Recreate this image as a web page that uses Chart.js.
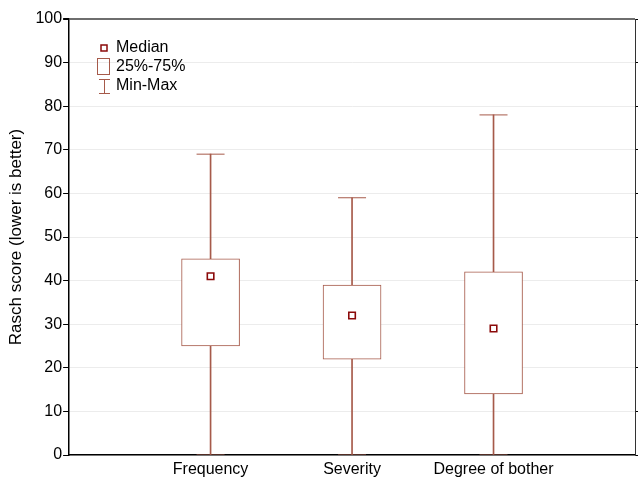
<!DOCTYPE html>
<html>
<head>
<meta charset="utf-8">
<script src="https://cdn.jsdelivr.net/npm/chart.js@4"></script>
<style>
  body { margin: 0; background: #fff; }
  .C_chart { width: 638px; height: 478px; }
</style>
</head>
<body>
<div class="C_chart"><canvas id="boxChart" width="638" height="478"></canvas></div>
<script>
// values
const categories = ['Frequency', 'Severity', 'Degree of bother']
const minVals = [0, 0, 0]
const q1Vals = [25, 22, 14]
const medianVals = [41, 32, 29]
const q3Vals = [45, 39, 42]
const maxVals = [69, 59, 78]
const yTicks = [0, 10, 20, 30, 40, 50, 60, 70, 80, 90, 100]

const boxColor = '#a65a4a'
const medianColor = '#8b0a0a'
const font = "'Liberation Sans', Arial, sans-serif"

// empty slot on both sides, like the original axis
const labels = ['', ...categories, '']
const pad = arr => [null, ...arr, null]

const legendInside = {
    id: 'legendInside',
    afterDraw(chart) {
        const ctx = chart.ctx
        const area = chart.chartArea
        const x = Math.round(area.left + 35)
        const y = Math.round(area.top + 29)
        ctx.save()
        // median icon
        ctx.strokeStyle = medianColor
        ctx.lineWidth = 1.5
        ctx.fillStyle = '#fff'
        ctx.fillRect(x - 3, y - 3, 6, 6)
        ctx.strokeRect(x - 3, y - 3, 6, 6)
        // box icon
        ctx.strokeStyle = boxColor
        ctx.lineWidth = 1
        ctx.strokeRect(x - 6.5, y + 10.5, 12, 16)
        // min-max icon
        ctx.beginPath()
        ctx.moveTo(x - 5, y + 31.5); ctx.lineTo(x + 6, y + 31.5)
        ctx.moveTo(x + 0.5, y + 31.5); ctx.lineTo(x + 0.5, y + 45.5)
        ctx.moveTo(x - 5, y + 45.5); ctx.lineTo(x + 6, y + 45.5)
        ctx.stroke()
        ctx.fillStyle = '#000'
        ctx.font = '16px ' + font
        ctx.textBaseline = 'middle'
        ctx.fillText('Median', x + 12, y)
        ctx.fillText('25%-75%', x + 12, y + 19)
        ctx.fillText('Min-Max', x + 12, y + 38)
        ctx.restore()
    }
}

const canvas = document.getElementById('boxChart')
const boxChart = new Chart(canvas, {
    type: 'bar',
    data: {
        labels: labels,
        datasets: [
            {
                label: 'Min-Max',
                data: pad(categories.map((c, i) => [minVals[i], maxVals[i]])),
                backgroundColor: boxColor,
                barThickness: 1,
                grouped: false,
                order: 3
            },
            {
                label: '25%-75%',
                data: pad(categories.map((c, i) => [q1Vals[i], q3Vals[i]])),
                backgroundColor: '#fff',
                borderColor: boxColor,
                borderWidth: 1,
                borderSkipped: false,
                barThickness: 58,
                grouped: false,
                order: 2
            },
            {
                type: 'line',
                label: 'caps',
                data: pad(maxVals),
                showLine: false,
                pointStyle: 'line',
                pointRadius: 14,
                borderColor: boxColor,
                borderWidth: 1,
                order: 1
            },
            {
                type: 'line',
                label: 'caps min',
                data: pad(minVals),
                showLine: false,
                pointStyle: 'line',
                pointRadius: 14,
                borderColor: boxColor,
                borderWidth: 1,
                order: 1
            },
            {
                type: 'line',
                label: 'Median',
                data: pad(medianVals),
                showLine: false,
                pointStyle: 'rect',
                pointRadius: 4.6,
                backgroundColor: '#fff',
                borderColor: medianColor,
                borderWidth: 1.6,
                order: 0
            }
        ]
    },
    options: {
        responsive: false,
        animation: false,
        layout: { autoPadding: false, padding: { top: 19, right: 0, bottom: 1, left: 6 } },
        plugins: {
            legend: { display: false },
            tooltip: { enabled: false }
        },
        scales: {
            x: {
                type: 'category',
                offset: false,
                afterFit: axis => {
                    axis.height = 22
                    axis.paddingRight = 0
                    axis.paddingLeft = 0
                },
                grid: {
                    drawTicks: false,
                    color: c => 'rgba(0,0,0,0)'
                },
                border: { display: true, color: '#000', width: 1.5 },
                ticks: {
                    color: '#000',
                    font: { family: font, size: 16 },
                    autoSkip: false,
                    maxRotation: 0,
                    padding: 5
                }
            },
            y: {
                min: 0,
                max: 100,
                afterBuildTicks: axis => { axis.ticks = yTicks.map(v => ({ value: v })) },
                grid: {
                    color: c => c.tick && c.tick.value === 100 ? '#6e6e6e' : '#ececec',
                    tickColor: '#000',
                    tickLength: 6,
                    lineWidth: c => c.tick && c.tick.value === 100 ? 2 : 1
                },
                border: { display: true, color: '#000', width: 1.5 },
                ticks: {
                    color: '#000',
                    font: { family: font, size: 16 },
                    padding: 1
                },
                title: {
                    display: true,
                    text: 'Rasch score (lower is better)',
                    color: '#000',
                    font: { family: font, size: 17 },
                    padding: { top: 0, bottom: 8 }
                }
            },
            yRight: {
                position: 'right',
                min: 0,
                max: 100,
                afterBuildTicks: axis => { axis.ticks = yTicks.map(v => ({ value: v })) },
                afterFit: axis => { axis.width = 3 },
                grid: { drawOnChartArea: false, tickColor: '#000', tickLength: 3 },
                border: { display: true, color: '#333', width: 1 },
                ticks: { display: false }
            }
        }
    },
    plugins: [legendInside]
})
</script>
</body>
</html>
